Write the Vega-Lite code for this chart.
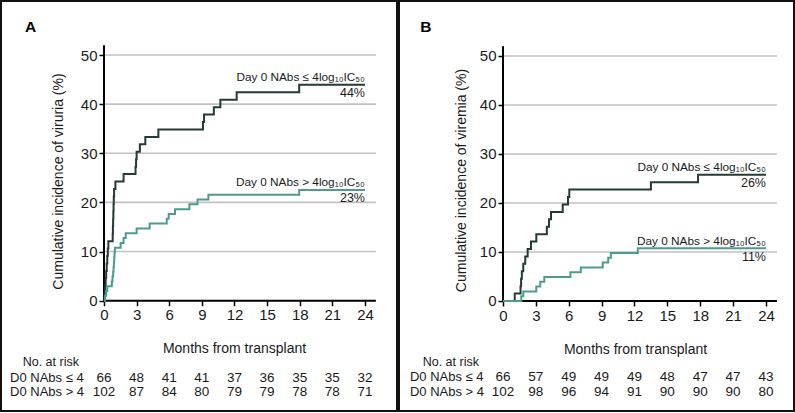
{
  "$schema": "https://vega.github.io/schema/vega-lite/v6.json",
  "padding": 0,
  "spacing": 0,
  "config": {
    "font": "Liberation Sans, Arial, DejaVu Sans, sans-serif",
    "view": {"stroke": "#111", "strokeWidth": 2},
    "text": {"color": "#1a1a1a"},
    "axis": {"domain": false, "grid": false, "tickSize": 5, "tickWidth": 1.5, "tickColor": "#000", "labelFontSize": 15, "labelColor": "#1a1a1a", "labelOverlap": false, "labelFlush": false, "titleFontSize": 14, "titleFontWeight": "normal", "titleColor": "#1a1a1a"}
  },
  "datasets": {
    "curvesA": [
      {"g": "le", "month": 0, "pct": 0}, {"g": "le", "month": 0.05, "pct": 1.52}, {"g": "le", "month": 0.1, "pct": 3.03}, {"g": "le", "month": 0.15, "pct": 4.55}, {"g": "le", "month": 0.2, "pct": 6.06}, {"g": "le", "month": 0.25, "pct": 7.58}, {"g": "le", "month": 0.3, "pct": 9.09}, {"g": "le", "month": 0.35, "pct": 10.61}, {"g": "le", "month": 0.4, "pct": 12.12}, {"g": "le", "month": 0.8, "pct": 13.64}, {"g": "le", "month": 0.82, "pct": 15.15}, {"g": "le", "month": 0.84, "pct": 16.67}, {"g": "le", "month": 0.86, "pct": 18.18}, {"g": "le", "month": 0.88, "pct": 19.7}, {"g": "le", "month": 0.9, "pct": 21.21}, {"g": "le", "month": 0.93, "pct": 22.73}, {"g": "le", "month": 1.05, "pct": 24.24}, {"g": "le", "month": 1.8, "pct": 25.76}, {"g": "le", "month": 2.9, "pct": 27.27}, {"g": "le", "month": 2.95, "pct": 28.79}, {"g": "le", "month": 3.0, "pct": 30.3}, {"g": "le", "month": 3.3, "pct": 31.82}, {"g": "le", "month": 3.8, "pct": 33.33}, {"g": "le", "month": 5.0, "pct": 34.85}, {"g": "le", "month": 9.1, "pct": 36.36}, {"g": "le", "month": 9.2, "pct": 37.88}, {"g": "le", "month": 10.1, "pct": 39.39}, {"g": "le", "month": 10.7, "pct": 40.91}, {"g": "le", "month": 12.2, "pct": 42.42}, {"g": "le", "month": 17.95, "pct": 43.94}, {"g": "le", "month": 24, "pct": 43.94},
      {"g": "gt", "month": 0, "pct": 0}, {"g": "gt", "month": 0.1, "pct": 0.98}, {"g": "gt", "month": 0.2, "pct": 1.96}, {"g": "gt", "month": 0.3, "pct": 2.94}, {"g": "gt", "month": 0.72, "pct": 3.92}, {"g": "gt", "month": 0.78, "pct": 4.9}, {"g": "gt", "month": 0.84, "pct": 5.88}, {"g": "gt", "month": 0.88, "pct": 6.86}, {"g": "gt", "month": 0.91, "pct": 7.84}, {"g": "gt", "month": 0.94, "pct": 8.82}, {"g": "gt", "month": 0.97, "pct": 9.8}, {"g": "gt", "month": 1.0, "pct": 10.78}, {"g": "gt", "month": 1.53, "pct": 11.76}, {"g": "gt", "month": 1.8, "pct": 12.75}, {"g": "gt", "month": 2.0, "pct": 13.73}, {"g": "gt", "month": 3.0, "pct": 14.71}, {"g": "gt", "month": 4.2, "pct": 15.69}, {"g": "gt", "month": 5.77, "pct": 16.67}, {"g": "gt", "month": 5.95, "pct": 17.65}, {"g": "gt", "month": 6.53, "pct": 18.63}, {"g": "gt", "month": 7.85, "pct": 19.61}, {"g": "gt", "month": 8.6, "pct": 20.59}, {"g": "gt", "month": 9.6, "pct": 21.57}, {"g": "gt", "month": 17.95, "pct": 22.55}, {"g": "gt", "month": 24, "pct": 22.55}
    ],
    "curvesB": [
      {"g": "le", "month": 0, "pct": 0}, {"g": "le", "month": 1.07, "pct": 1.52}, {"g": "le", "month": 1.6, "pct": 3.03}, {"g": "le", "month": 1.65, "pct": 4.55}, {"g": "le", "month": 1.72, "pct": 6.06}, {"g": "le", "month": 1.85, "pct": 7.58}, {"g": "le", "month": 2.03, "pct": 9.09}, {"g": "le", "month": 2.25, "pct": 10.61}, {"g": "le", "month": 2.55, "pct": 12.12}, {"g": "le", "month": 3.04, "pct": 13.64}, {"g": "le", "month": 4.0, "pct": 15.15}, {"g": "le", "month": 4.2, "pct": 16.67}, {"g": "le", "month": 4.38, "pct": 18.18}, {"g": "le", "month": 5.45, "pct": 19.7}, {"g": "le", "month": 5.93, "pct": 21.21}, {"g": "le", "month": 6.05, "pct": 22.73}, {"g": "le", "month": 13.5, "pct": 24.24}, {"g": "le", "month": 17.8, "pct": 25.76}, {"g": "le", "month": 24, "pct": 25.76},
      {"g": "gt", "month": 0, "pct": 0}, {"g": "gt", "month": 1.67, "pct": 0.98}, {"g": "gt", "month": 1.85, "pct": 1.96}, {"g": "gt", "month": 3.04, "pct": 2.94}, {"g": "gt", "month": 3.4, "pct": 3.92}, {"g": "gt", "month": 3.77, "pct": 4.9}, {"g": "gt", "month": 6.15, "pct": 5.88}, {"g": "gt", "month": 7.1, "pct": 6.86}, {"g": "gt", "month": 9.1, "pct": 7.84}, {"g": "gt", "month": 9.6, "pct": 8.82}, {"g": "gt", "month": 9.85, "pct": 9.8}, {"g": "gt", "month": 12.3, "pct": 10.78}, {"g": "gt", "month": 24, "pct": 10.78}
    ],
    "endsA": [
      {"g": "le", "month": 24, "pct": 43.94, "label": "Day 0 NAbs ≤ 4log₁₀IC₅₀", "pctText": "44%"},
      {"g": "gt", "month": 24, "pct": 22.55, "label": "Day 0 NAbs > 4log₁₀IC₅₀", "pctText": "23%"}
    ],
    "endsB": [
      {"g": "le", "month": 24, "pct": 25.76, "label": "Day 0 NAbs ≤ 4log₁₀IC₅₀", "pctText": "26%"},
      {"g": "gt", "month": 24, "pct": 10.78, "label": "Day 0 NAbs > 4log₁₀IC₅₀", "pctText": "11%"}
    ],
    "riskA": [
      {"g": "le", "month": 0, "n": 66}, {"g": "le", "month": 3, "n": 48}, {"g": "le", "month": 6, "n": 41}, {"g": "le", "month": 9, "n": 41}, {"g": "le", "month": 12, "n": 37}, {"g": "le", "month": 15, "n": 36}, {"g": "le", "month": 18, "n": 35}, {"g": "le", "month": 21, "n": 35}, {"g": "le", "month": 24, "n": 32},
      {"g": "gt", "month": 0, "n": 102}, {"g": "gt", "month": 3, "n": 87}, {"g": "gt", "month": 6, "n": 84}, {"g": "gt", "month": 9, "n": 80}, {"g": "gt", "month": 12, "n": 79}, {"g": "gt", "month": 15, "n": 79}, {"g": "gt", "month": 18, "n": 78}, {"g": "gt", "month": 21, "n": 78}, {"g": "gt", "month": 24, "n": 71}
    ],
    "riskB": [
      {"g": "le", "month": 0, "n": 66}, {"g": "le", "month": 3, "n": 57}, {"g": "le", "month": 6, "n": 49}, {"g": "le", "month": 9, "n": 49}, {"g": "le", "month": 12, "n": 49}, {"g": "le", "month": 15, "n": 48}, {"g": "le", "month": 18, "n": 47}, {"g": "le", "month": 21, "n": 47}, {"g": "le", "month": 24, "n": 43},
      {"g": "gt", "month": 0, "n": 102}, {"g": "gt", "month": 3, "n": 98}, {"g": "gt", "month": 6, "n": 96}, {"g": "gt", "month": 9, "n": 94}, {"g": "gt", "month": 12, "n": 91}, {"g": "gt", "month": 15, "n": 90}, {"g": "gt", "month": 18, "n": 90}, {"g": "gt", "month": 21, "n": 90}, {"g": "gt", "month": 24, "n": 80}
    ]
  },
  "hconcat": [
    {
      "width": 396,
      "height": 410,
      "layer": [
        {
          "data": {"values": [{"v": 10}, {"v": 20}, {"v": 30}, {"v": 40}, {"v": 50}]},
          "mark": {"type": "rule", "color": "#c2c2c2", "strokeWidth": 1.6},
          "encoding": {
            "y": {"field": "v", "type": "quantitative", "scale": {"domain": [-22.45, 60.99], "nice": false, "zero": false},
              "axis": {"values": [0, 10, 20, 30, 40, 50], "offset": -103, "labelPadding": 2, "title": "Cumulative incidence of viruria (%)", "titleX": -45.7, "titleY": 180, "titleAngle": -90, "titleBaseline": "middle", "titleAlign": "center"}},
            "x": {"datum": 0, "type": "quantitative", "scale": {"domain": [-9.471, 26.943], "nice": false, "zero": false},
              "axis": {"values": [0, 3, 6, 9, 12, 15, 18, 21, 24], "offset": -110.3, "labelPadding": 2, "title": "Months from transplant", "titleX": 233, "titleY": 47.3, "titleBaseline": "middle", "titleAlign": "center"}},
            "x2": {"datum": 25}
          }
        },
        {
          "data": {"values": [{}]},
          "mark": {"type": "rule", "color": "#000", "strokeWidth": 2},
          "encoding": {"x": {"datum": 0, "type": "quantitative"}, "y": {"datum": 0, "type": "quantitative"}, "y2": {"datum": 52}}
        },
        {
          "data": {"values": [{}]},
          "mark": {"type": "rule", "color": "#000", "strokeWidth": 2},
          "encoding": {"x": {"datum": 0, "type": "quantitative"}, "x2": {"datum": 25}, "y": {"datum": 0, "type": "quantitative"}}
        },
        {
          "data": {"name": "curvesA"},
          "mark": {"type": "line", "interpolate": "step-after", "strokeWidth": 2},
          "encoding": {
            "x": {"field": "month", "type": "quantitative"},
            "y": {"field": "pct", "type": "quantitative"},
            "color": {"field": "g", "type": "nominal", "scale": {"domain": ["le", "gt"], "range": ["#243a36", "#4e9b8e"]}, "legend": null}
          }
        },
        {
          "data": {"name": "endsA"},
          "mark": {"type": "text", "align": "right", "baseline": "middle", "dy": -7.5, "fontSize": 11.8},
          "encoding": {"x": {"field": "month", "type": "quantitative"}, "y": {"field": "pct", "type": "quantitative"}, "text": {"field": "label"}}
        },
        {
          "data": {"name": "endsA"},
          "mark": {"type": "text", "align": "right", "baseline": "middle", "dy": 8.5, "fontSize": 12.5},
          "encoding": {"x": {"field": "month", "type": "quantitative"}, "y": {"field": "pct", "type": "quantitative"}, "text": {"field": "pctText"}}
        },
        {
          "data": {"name": "riskA"},
          "transform": [{"filter": "datum.g == 'le'"}],
          "mark": {"type": "text", "align": "center", "baseline": "middle", "fontSize": 13.5},
          "encoding": {"x": {"field": "month", "type": "quantitative"}, "y": {"datum": -15.67, "type": "quantitative"}, "text": {"field": "n", "type": "quantitative"}}
        },
        {
          "data": {"name": "riskA"},
          "transform": [{"filter": "datum.g == 'gt'"}],
          "mark": {"type": "text", "align": "center", "baseline": "middle", "fontSize": 13.5},
          "encoding": {"x": {"field": "month", "type": "quantitative"}, "y": {"datum": -18.64, "type": "quantitative"}, "text": {"field": "n", "type": "quantitative"}}
        },
        {
          "data": {"values": [{}]},
          "mark": {"type": "text", "align": "left", "baseline": "middle", "fontSize": 13},
          "encoding": {"x": {"datum": -8.64, "type": "quantitative"}, "y": {"datum": -15.67, "type": "quantitative"}, "text": {"value": "D0 NAbs ≤ 4"}}
        },
        {
          "data": {"values": [{}]},
          "mark": {"type": "text", "align": "left", "baseline": "middle", "fontSize": 13},
          "encoding": {"x": {"datum": -8.64, "type": "quantitative"}, "y": {"datum": -18.64, "type": "quantitative"}, "text": {"value": "D0 NAbs > 4"}}
        },
        {
          "data": {"values": [{}]},
          "mark": {"type": "text", "align": "left", "baseline": "middle", "fontSize": 12.5},
          "encoding": {"x": {"datum": -7.48, "type": "quantitative"}, "y": {"datum": -12.54, "type": "quantitative"}, "text": {"value": "No. at risk"}}
        },
        {
          "data": {"values": [{}]},
          "mark": {"type": "text", "align": "left", "baseline": "middle", "fontSize": 15.5, "fontWeight": "bold", "color": "#000"},
          "encoding": {"x": {"datum": -7.26, "type": "quantitative"}, "y": {"datum": 55.76, "type": "quantitative"}, "text": {"value": "A"}}
        }
      ]
    },
    {
      "width": 395,
      "height": 410,
      "layer": [
        {
          "data": {"values": [{"v": 10}, {"v": 20}, {"v": 30}, {"v": 40}, {"v": 50}]},
          "mark": {"type": "rule", "color": "#c2c2c2", "strokeWidth": 1.6},
          "encoding": {
            "y": {"field": "v", "type": "quantitative", "scale": {"domain": [-22.45, 61.22], "nice": false, "zero": false},
              "axis": {"values": [0, 10, 20, 30, 40, 50], "offset": -104, "labelPadding": 2, "title": "Cumulative incidence of viremia (%)", "titleX": -42, "titleY": 179, "titleAngle": -90, "titleBaseline": "middle", "titleAlign": "center"}},
            "x": {"datum": 0, "type": "quantitative", "scale": {"domain": [-9.491, 26.556], "nice": false, "zero": false},
              "axis": {"values": [0, 3, 6, 9, 12, 15, 18, 21, 24], "offset": -110, "labelPadding": 2, "title": "Months from transplant", "titleX": 236, "titleY": 48, "titleBaseline": "middle", "titleAlign": "center"}},
            "x2": {"datum": 25}
          }
        },
        {
          "data": {"values": [{}]},
          "mark": {"type": "rule", "color": "#000", "strokeWidth": 2},
          "encoding": {"x": {"datum": 0, "type": "quantitative"}, "y": {"datum": 0, "type": "quantitative"}, "y2": {"datum": 52}}
        },
        {
          "data": {"values": [{}]},
          "mark": {"type": "rule", "color": "#000", "strokeWidth": 2},
          "encoding": {"x": {"datum": 0, "type": "quantitative"}, "x2": {"datum": 25}, "y": {"datum": 0, "type": "quantitative"}}
        },
        {
          "data": {"name": "curvesB"},
          "mark": {"type": "line", "interpolate": "step-after", "strokeWidth": 2},
          "encoding": {
            "x": {"field": "month", "type": "quantitative"},
            "y": {"field": "pct", "type": "quantitative"},
            "color": {"field": "g", "type": "nominal", "scale": {"domain": ["le", "gt"], "range": ["#243a36", "#4e9b8e"]}, "legend": null}
          }
        },
        {
          "data": {"name": "endsB"},
          "mark": {"type": "text", "align": "right", "baseline": "middle", "dy": -7.5, "fontSize": 11.8},
          "encoding": {"x": {"field": "month", "type": "quantitative"}, "y": {"field": "pct", "type": "quantitative"}, "text": {"field": "label"}}
        },
        {
          "data": {"name": "endsB"},
          "mark": {"type": "text", "align": "right", "baseline": "middle", "dy": 8.5, "fontSize": 12.5},
          "encoding": {"x": {"field": "month", "type": "quantitative"}, "y": {"field": "pct", "type": "quantitative"}, "text": {"field": "pctText"}}
        },
        {
          "data": {"name": "riskB"},
          "transform": [{"filter": "datum.g == 'le'"}],
          "mark": {"type": "text", "align": "center", "baseline": "middle", "fontSize": 13.5},
          "encoding": {"x": {"field": "month", "type": "quantitative"}, "y": {"datum": -15.51, "type": "quantitative"}, "text": {"field": "n", "type": "quantitative"}}
        },
        {
          "data": {"name": "riskB"},
          "transform": [{"filter": "datum.g == 'gt'"}],
          "mark": {"type": "text", "align": "center", "baseline": "middle", "fontSize": 13.5},
          "encoding": {"x": {"field": "month", "type": "quantitative"}, "y": {"datum": -18.57, "type": "quantitative"}, "text": {"field": "n", "type": "quantitative"}}
        },
        {
          "data": {"values": [{}]},
          "mark": {"type": "text", "align": "left", "baseline": "middle", "fontSize": 13},
          "encoding": {"x": {"datum": -8.49, "type": "quantitative"}, "y": {"datum": -15.51, "type": "quantitative"}, "text": {"value": "D0 NAbs ≤ 4"}}
        },
        {
          "data": {"values": [{}]},
          "mark": {"type": "text", "align": "left", "baseline": "middle", "fontSize": 13},
          "encoding": {"x": {"datum": -8.49, "type": "quantitative"}, "y": {"datum": -18.57, "type": "quantitative"}, "text": {"value": "D0 NAbs > 4"}}
        },
        {
          "data": {"values": [{}]},
          "mark": {"type": "text", "align": "left", "baseline": "middle", "fontSize": 12.5},
          "encoding": {"x": {"datum": -7.33, "type": "quantitative"}, "y": {"datum": -12.45, "type": "quantitative"}, "text": {"value": "No. at risk"}}
        },
        {
          "data": {"values": [{}]},
          "mark": {"type": "text", "align": "left", "baseline": "middle", "fontSize": 15.5, "fontWeight": "bold", "color": "#000"},
          "encoding": {"x": {"datum": -7.55, "type": "quantitative"}, "y": {"datum": 55.98, "type": "quantitative"}, "text": {"value": "B"}}
        }
      ]
    }
  ]
}
